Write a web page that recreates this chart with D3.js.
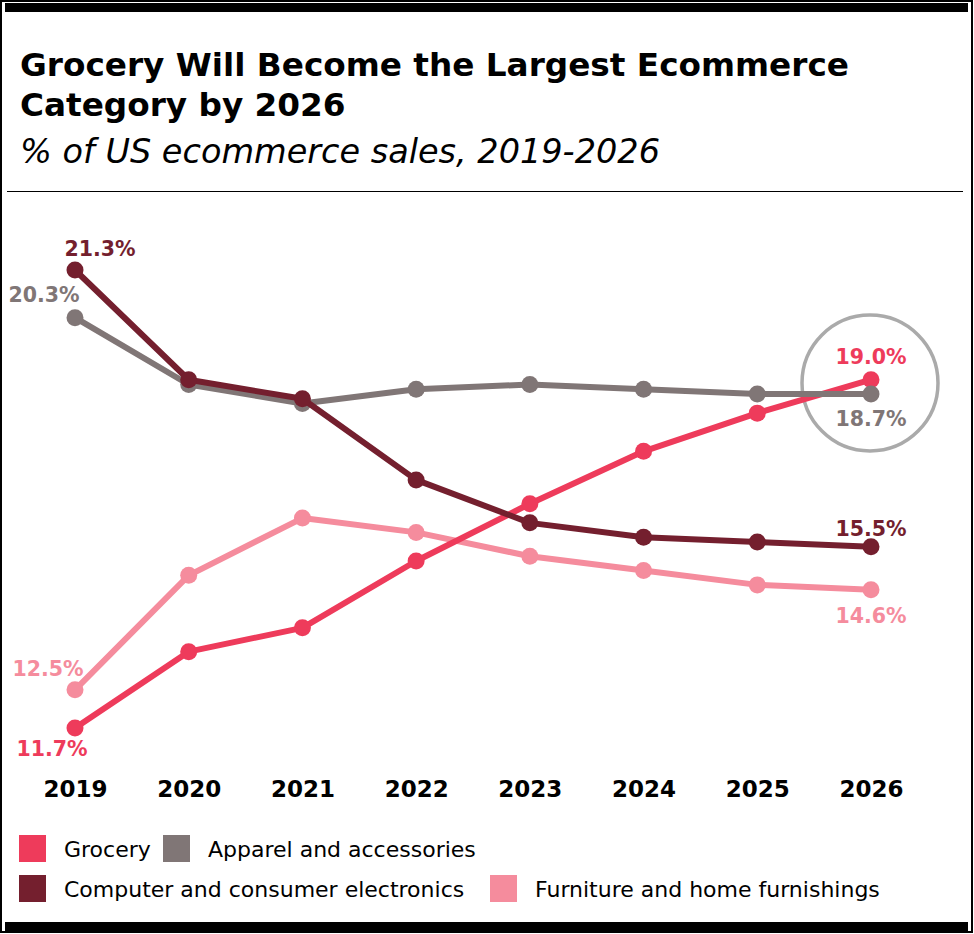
<!DOCTYPE html>
<html>
<head>
<meta charset="utf-8">
<script src="https://cdn.jsdelivr.net/npm/d3@7"></script>
<style>
  body { margin: 0; background: #fff; }
  svg { display: block; font-family: "DejaVu Sans", sans-serif; }
</style>
</head>
<body>
<svg id="chart" width="974" height="934"></svg>
<script>
const years = ["2019", "2020", "2021", "2022", "2023", "2024", "2025", "2026"];
const grocery = [11.7, 13.3, 13.8, 15.2, 16.4, 17.5, 18.3, 19.0];
const apparel = [20.3, 18.9, 18.5, 18.8, 18.9, 18.8, 18.7, 18.7];
const computer = [21.3, 19.0, 18.6, 16.9, 16.0, 15.7, 15.6, 15.5];
const furniture = [12.5, 14.9, 16.1, 15.8, 15.3, 15.0, 14.7, 14.6];
const seriesNames = ["Grocery", "Apparel and accessories", "Computer and consumer electronics", "Furniture and home furnishings"];

const colors = {
  "Grocery": "#ee3b5b",
  "Apparel and accessories": "#807676",
  "Computer and consumer electronics": "#741f2e",
  "Furniture and home furnishings": "#f58c9d"
};

const series = [
  { name: seriesNames[3], values: furniture },
  { name: seriesNames[0], values: grocery },
  { name: seriesNames[1], values: apparel },
  { name: seriesNames[2], values: computer }
];

const svg = d3.select("#chart");

// frame
svg.append("rect").attr("x", 1).attr("y", 1).attr("width", 971).attr("height", 931)
  .attr("fill", "none").attr("stroke", "#000").attr("stroke-width", 2);
svg.append("rect").attr("x", 5).attr("y", 3).attr("width", 963).attr("height", 9).attr("fill", "#000");
svg.append("rect").attr("x", 5).attr("y", 922).attr("width", 963).attr("height", 10).attr("fill", "#000");
svg.append("line").attr("x1", 7).attr("x2", 963).attr("y1", 191.5).attr("y2", 191.5)
  .attr("stroke", "#000").attr("stroke-width", 1.2);

// titles
svg.append("text").attr("x", 20).attr("y", 76)
  .attr("font-size", 32.7).attr("font-weight", "bold").attr("fill", "#000")
  .text("Grocery Will Become the Largest Ecommerce");
svg.append("text").attr("x", 20).attr("y", 116)
  .attr("font-size", 32.7).attr("font-weight", "bold").attr("fill", "#000")
  .text("Category by 2026");
svg.append("text").attr("x", 20).attr("y", 163)
  .attr("font-size", 33.5).attr("font-style", "italic").attr("fill", "#000")
  .text("% of US ecommerce sales, 2019-2026");

// scales
const x = d3.scalePoint().domain(years).range([75, 871]);
const y = d3.scaleLinear().domain([11.7, 21.3]).range([728, 270]);

// highlight circle
svg.append("circle").attr("cx", x("2026") - 1).attr("cy", 383).attr("r", 68)
  .attr("fill", "none").attr("stroke", "#aaaaaa").attr("stroke-width", 3.5);

const line = d3.line().x((d, i) => x(years[i])).y(d => y(d));

const g = svg.append("g");
series.forEach(s => {
  const sg = g.append("g");
  sg.append("path").datum(s.values)
    .attr("d", line)
    .attr("fill", "none")
    .attr("stroke", colors[s.name])
    .attr("stroke-width", 6)
    .attr("stroke-linejoin", "round");
  sg.selectAll("circle").data(s.values).join("circle")
    .attr("cx", (d, i) => x(years[i]))
    .attr("cy", d => y(d))
    .attr("r", 8.5)
    .attr("fill", colors[s.name]);
});

// value labels
const labels = [
  { name: seriesNames[2], idx: 0, dx: 25, dy: -14 },
  { name: seriesNames[1], idx: 0, dx: -31, dy: -16 },
  { name: seriesNames[3], idx: 0, dx: -27, dy: -14 },
  { name: seriesNames[0], idx: 0, dx: -23, dy: 28 },
  { name: seriesNames[0], idx: 7, dx: 0, dy: -16 },
  { name: seriesNames[1], idx: 7, dx: 0, dy: 32 },
  { name: seriesNames[2], idx: 7, dx: 0, dy: -11 },
  { name: seriesNames[3], idx: 7, dx: 0, dy: 33 }
];
const valuesByName = {};
series.forEach(s => valuesByName[s.name] = s.values);
svg.append("g").selectAll("text").data(labels).join("text")
  .attr("x", d => x(years[d.idx]) + d.dx)
  .attr("y", d => y(valuesByName[d.name][d.idx]) + d.dy)
  .attr("text-anchor", "middle")
  .attr("font-size", 20.5)
  .attr("font-weight", "bold")
  .attr("fill", d => colors[d.name])
  .text(d => valuesByName[d.name][d.idx].toFixed(1) + "%");

// x axis
const xAxis = svg.append("g").attr("transform", "translate(0,770)")
  .call(d3.axisBottom(x).tickSize(0).tickPadding(0));
xAxis.select(".domain").remove();
xAxis.selectAll("text")
  .attr("font-family", "DejaVu Sans, sans-serif")
  .attr("font-size", 23)
  .attr("font-weight", "bold")
  .attr("fill", "#000")
  .attr("dy", "1.17em");

// legend
const legendItems = [
  { name: seriesNames[0], lx: 19, ly: 835 },
  { name: seriesNames[1], lx: 163, ly: 835 },
  { name: seriesNames[2], lx: 19, ly: 875 },
  { name: seriesNames[3], lx: 490, ly: 875 }
];
const lg = svg.append("g").selectAll("g").data(legendItems).join("g")
  .attr("transform", d => `translate(${d.lx},${d.ly})`);
lg.append("rect").attr("width", 27).attr("height", 27).attr("fill", d => colors[d.name]);
lg.append("text").attr("x", 45).attr("y", 22)
  .attr("font-size", 22).attr("fill", "#000")
  .text(d => d.name);
</script>
</body>
</html>
